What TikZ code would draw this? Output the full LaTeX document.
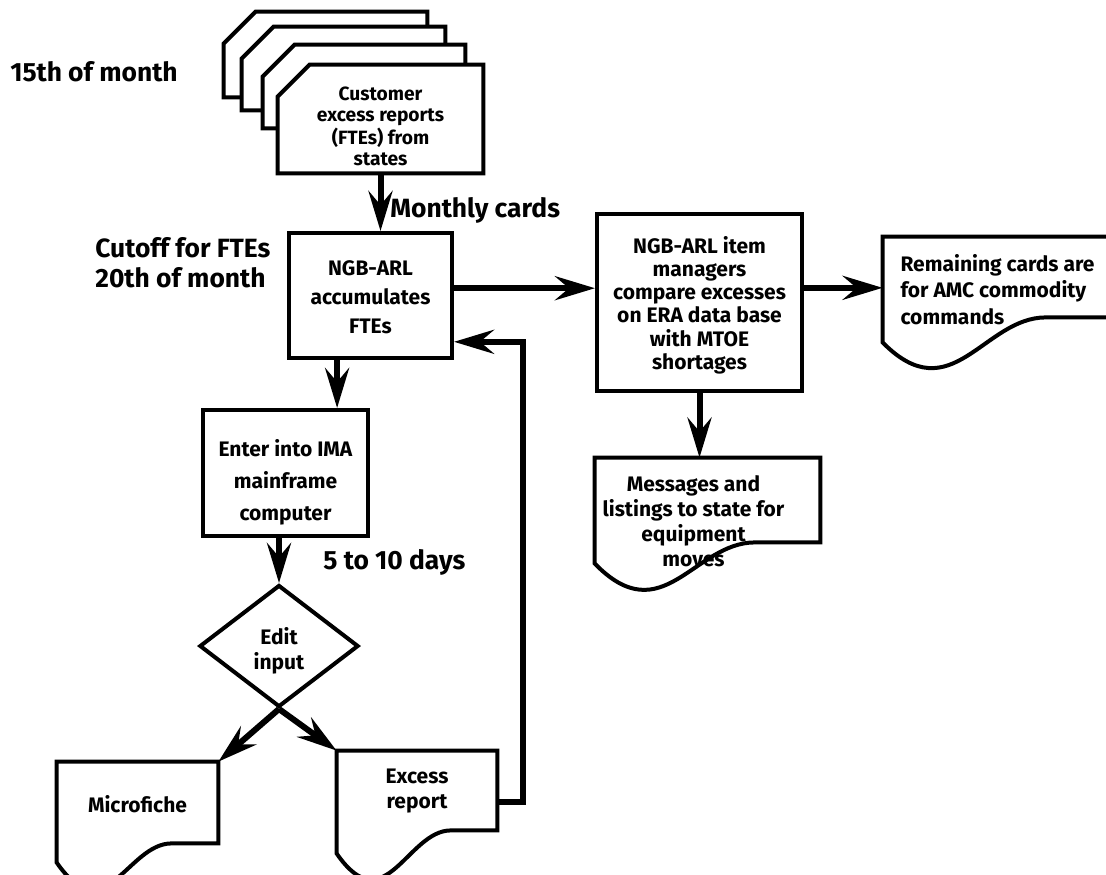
\documentclass[tikz,border=0pt]{standalone}
\usepackage{fontspec}
\setmainfont{Fira Sans}
\usetikzlibrary{shapes.geometric,arrows.meta,calc,backgrounds}

\newcommand{\boxfont}{\bfseries\fontsize{10.5}{12.5}\selectfont}
\newcommand{\notefont}{\bfseries\fontsize{13.2}{15}\selectfont}
% text block moved down (or up) inside its box
\newcommand{\shifted}[2]{\raisebox{#1}[\height][\depth]{\begin{tabular}{@{}c@{}}#2\end{tabular}}}

% outline of a punched card (cut corner top left)
\newcommand{\cardoutline}[1]{%
  \draw[boxline, fill=white] ([yshift=-16pt]#1.north west) -- ([xshift=16pt]#1.north west)
    -- (#1.north east) -- (#1.south east) -- (#1.south west) -- cycle;}
% outline of a printed document (wavy bottom)
\newcommand{\docoutline}[2]{%
  \draw[boxline] (#1.south west)
    .. controls ($(#1.south west)!0.3!(#1.south east)+(0,70)$)
           and ($(#1.south west)!0.44!(#1.south east)+(0,-#2)$)
    .. ($(#1.south west)!0.71!(#1.south east)+(0,-#2)$)
    -- ($(#1.south east)+(0,-#2)$) -- (#1.north east) -- (#1.north west) -- cycle;}

\tikzset{
  boxline/.style={line width=2pt, line join=miter},
  flow/.style={line width=3pt, -{Stealth[length=20pt,width=12pt,inset=7pt]}},
  procbox/.style={draw, boxline, rectangle, inner sep=0pt, font=\boxfont, align=center},
  plainbox/.style={rectangle, inner sep=0pt, font=\boxfont, align=center},
  decide/.style={diamond, draw, boxline, inner sep=0pt, font=\boxfont, align=center,
    minimum width=79.5pt, minimum height=61pt},
  note/.style={font=\notefont, align=left, inner sep=0pt, anchor=west}
}

\begin{document}
\begin{tikzpicture}[x=0.5pt, y=-0.5pt]
  \useasboundingbox (0,0) rectangle (1106,874);

  % card stack
  \node[plainbox, minimum width=101.5pt, minimum height=42.5pt] (card1) at (325.5,54.5) {};
  \node[plainbox, minimum width=101.5pt, minimum height=41.5pt] (card2) at (343.5,68.5) {};
  \node[plainbox, minimum width=101pt, minimum height=41.5pt] (card3) at (364,86.5) {};
  \node[plainbox, minimum width=102.5pt, minimum height=54pt,
    font=\bfseries\fontsize{9.6}{10.5}\selectfont] (cust) at (380.5,119)
    {\shifted{-5pt}{Customer\\excess reports\\(FTEs) from\\states}};

  % process boxes
  \node[procbox, minimum width=81.5pt, minimum height=62.5pt] (accum) at (370.5,295.5)
    {\shifted{-2pt}{NGB-ARL\\[2pt]accumulates\\[2pt]FTEs}};
  \node[procbox, minimum width=102.5pt, minimum height=88.5pt,
    font=\bfseries\fontsize{10.5}{11.5}\selectfont] (compare) at (699.5,302.5)
    {\shifted{-2pt}{NGB-ARL item\\managers\\compare excesses\\on ERA data base\\with MTOE\\shortages}};
  \node[procbox, minimum width=82.5pt, minimum height=63pt] (enter) at (285.5,473)
    {\shifted{-5pt}{Enter into IMA\\[3.5pt]mainframe\\[3.5pt]computer}};
  \node[decide] (edit) at (279,646) {\shifted{-3pt}{Edit\\input}};

  % documents
  \node[plainbox, align=left, minimum width=114.5pt, minimum height=52.5pt] (remain) at (997.5,289.5)
    {Remaining cards are\\[0.7pt]for AMC commodity\\[0.7pt]commands};
  \node[plainbox, minimum width=112.5pt, minimum height=52.5pt] (msgs) at (707.5,510.5)
    {\kern-14pt\shifted{-6.5pt}{Messages and\\listings to state for\\equipment\\moves}};
  \node[plainbox, minimum width=80.5pt, minimum height=50pt] (fiche) at (137.5,812)
    {\shifted{2.5pt}{Microfiche}};
  \node[plainbox, minimum width=80pt, minimum height=51pt] (excess) at (417,802)
    {\shifted{5.5pt}{Excess\\report}};

  \begin{scope}[on background layer]
    \cardoutline{card1}
    \cardoutline{card2}
    \cardoutline{card3}
    \cardoutline{cust}
    \docoutline{remain}{25}
    \docoutline{msgs}{21}
    \docoutline{fiche}{19}
    \docoutline{excess}{23}
  \end{scope}

  % notes
  \node[note] (mid) at (10,72) {15th of month};
  \node[note] (cutoff) at (95,263) {Cutoff for FTEs\\20th of month};
  \node[note] (monthly) at (390,210) {Monthly cards};
  \node[note] (days) at (323,562) {5 to 10 days};

  % connectors
  \coordinate (accout) at ($(accum.south west)!0.3!(accum.south east)$);
  \draw[flow] (cust.south) -- (cust.south |- accum.north);
  \draw[flow] (accum.5) -- (accum.5 -| compare.west);
  \draw[flow] (compare.8) -- (compare.8 -| remain.west);
  \draw[flow] (compare.south) -- (compare.south |- msgs.north);
  \draw[flow] (accout) -- (accout |- enter.north);
  \draw[flow] (edit.north |- enter.south) -- (edit.north);
  \draw[flow] (edit.south) -- (fiche.north east);
  \draw[flow] (edit.south) -- (excess.north west);
  \draw[flow] (excess.east) -- ++(26,0) |- (accum.-29);
\end{tikzpicture}
\end{document}
